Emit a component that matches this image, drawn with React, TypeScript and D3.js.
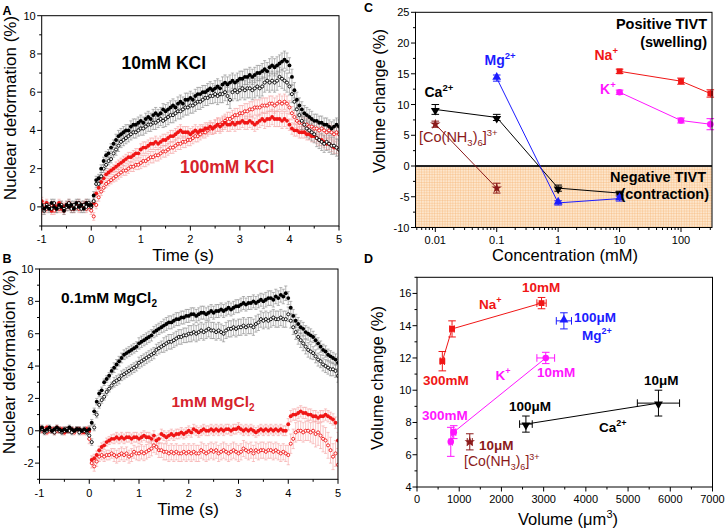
import React from 'react';
import * as d3 from 'd3';

const FONT = '"Liberation Sans", Arial, Helvetica, sans-serif';
const RED = '#f01616';
const RED_TEXT = '#d6232b';
const RED_ERR = '#f5a0a0';
const GREY_ERR = '#858585';
const BLUE = '#1c1cff';
const MAGENTA = '#ff16ff';
const DARK_RED = '#8b1a1a';

// ---------- panels A / B : time series, sampled every 0.05 s from -1 s ----------
const T0 = -1;
const DT = 0.05;

const aBlackFilled = [
  0.1, -0.1, 0.0, -0.1, 0.2, 0.0, -0.1, 0.1, 0.0, -0.2,
  0.1, 0.0, 0.1, -0.1, 0.2, 0.0, 0.1, -0.1, 0.2, 0.1,
  0.1, 0.6, 1.4, 1.5, 2.0, 2.4, 2.7, 2.8, 3.1, 3.3,
  3.5, 3.7, 3.8, 3.9, 4.0, 4.0, 4.2, 4.3, 4.3, 4.4,
  4.5, 4.4, 4.6, 4.7, 4.6, 4.8, 4.9, 4.8, 4.9, 5.1,
  5.0, 5.1, 5.2, 5.3, 5.2, 5.4, 5.5, 5.4, 5.6, 5.6,
  5.7, 5.6, 5.8, 5.9, 5.9, 6.0, 6.0, 6.1, 6.2, 6.1,
  6.2, 6.3, 6.2, 6.4, 6.5, 6.4, 6.5, 6.6, 6.5, 6.6,
  6.7, 6.7, 6.8, 6.8, 6.9, 6.8, 6.9, 7.0, 7.0, 7.1,
  7.2, 7.1, 7.3, 7.4, 7.3, 7.4, 7.5, 7.6, 7.7, 7.6,
  7.4, 6.8, 6.1, 5.6, 5.3, 5.1, 4.9, 4.8, 4.7, 4.6,
  4.5, 4.5, 4.4, 4.4, 4.3, 4.3, 4.2, 4.1, 4.2, 4.3,
  4.2,
];
const aBlackOpen = [
  0.0, -0.2, 0.1, 0.0, -0.1, 0.2, -0.1, 0.0, 0.1, -0.1,
  0.0, 0.2, -0.1, 0.1, 0.0, 0.2, -0.1, 0.1, 0.0, 0.2,
  0.0, 0.3, 1.2, 1.2, 1.6, 2.0, 2.2, 2.4, 2.5, 2.8,
  3.0, 3.2, 3.4, 3.5, 3.6, 3.7, 3.8, 3.9, 3.9, 4.0,
  4.1, 4.1, 4.2, 4.3, 4.3, 4.4, 4.4, 4.5, 4.6, 4.5,
  4.6, 4.7, 4.8, 4.8, 4.9, 5.0, 5.0, 5.1, 5.2, 5.2,
  5.3, 5.3, 5.4, 5.5, 5.5, 5.6, 5.7, 5.7, 5.8, 5.8,
  5.9, 5.8, 5.9, 5.9, 6.0, 5.8, 5.6, 6.0, 6.1, 6.0,
  6.1, 6.2, 6.1, 6.2, 6.2, 6.1, 6.2, 6.3, 6.2, 6.3,
  6.5, 6.6, 6.5, 6.6, 6.5, 6.6, 6.8, 6.7, 6.6, 6.5,
  6.3, 5.9, 5.5, 5.1, 4.8, 4.5, 4.3, 4.1, 4.0, 3.9,
  3.8, 3.6, 3.5, 3.4, 3.3, 3.4, 3.3, 3.2, 3.2, 3.1,
  3.0,
];
const aRedFilled = [
  0.3, -0.1, 0.2, 0.0, -0.2, 0.1, 0.0, 0.2, -0.1, 0.0,
  0.1, 0.2, 0.0, -0.1, 0.1, 0.2, 0.0, 0.1, 0.2, 0.1,
  0.0, 0.2, 0.7, 1.0, 1.3, 1.5, 1.7, 1.8, 1.9, 2.0,
  2.1, 2.2, 2.3, 2.4, 2.5, 2.6, 2.6, 2.7, 2.8, 2.8,
  3.0, 3.1, 3.1, 3.2, 3.3, 3.3, 3.4, 3.3, 3.4, 3.5,
  3.5, 3.6, 3.7, 3.7, 3.8, 3.9, 4.0, 3.9, 3.9, 3.9,
  3.8, 3.9, 4.0, 3.9, 4.0, 4.0, 4.1, 4.1, 4.2, 4.1,
  4.2, 4.3, 4.2, 4.3, 4.4, 4.3, 4.3, 4.4, 4.3, 4.4,
  4.4, 4.5, 4.4, 4.4, 4.5, 4.4, 4.3, 4.4, 4.5, 4.6,
  4.5, 4.6, 4.6, 4.7, 4.6, 4.6, 4.6, 4.5, 4.6, 4.5,
  4.3, 4.1, 4.0, 4.0, 3.9, 3.9, 3.9, 3.8, 3.8, 3.7,
  3.7, 3.6, 3.5, 3.5, 3.4, 3.3, 3.3, 3.2, 3.1, 3.1,
  3.0,
];
const aRedOpen = [
  -0.2, 0.1, -0.1, 0.0, 0.1, -0.2, 0.0, -0.1, 0.1, -0.2,
  0.0, 0.1, -0.1, 0.0, 0.1, -0.1, 0.0, 0.1, -0.1, 0.0,
  -0.2, -0.5, 0.1, 0.5, 0.8, 1.0, 1.2, 1.3, 1.4, 1.5,
  1.6, 1.7, 1.8, 1.9, 1.9, 2.0, 2.1, 2.1, 2.2, 2.2,
  2.3, 2.4, 2.4, 2.5, 2.6, 2.6, 2.7, 2.7, 2.8, 2.9,
  2.9, 3.0, 3.1, 3.1, 3.2, 3.3, 3.3, 3.4, 3.4, 3.5,
  3.5, 3.6, 3.7, 3.7, 3.8, 3.9, 3.9, 4.0, 4.1, 4.1,
  4.2, 4.3, 4.3, 4.4, 4.5, 4.6, 4.6, 4.7, 4.8, 4.8,
  4.9, 4.9, 5.0, 5.0, 5.1, 5.1, 5.2, 5.2, 5.2, 5.3,
  5.3, 5.3, 5.4, 5.4, 5.3, 5.4, 5.5, 5.4, 5.5, 5.4,
  5.2, 4.9, 4.7, 4.5, 4.4, 4.4, 4.3, 4.3, 4.2, 4.2,
  4.1, 4.1, 4.0, 4.1, 4.0, 3.9, 4.0, 3.9, 3.8, 3.9,
  3.8,
];

const bBlackFilled = [
  0.1, 0.2, 0.0, 0.1, 0.2, 0.0, 0.1, 0.2, 0.1, 0.0,
  0.1, 0.0, 0.2, 0.1, 0.0, 0.1, 0.1, 0.0, 0.1, 0.0,
  0.1, 0.5, 1.2, 1.8, 2.3, 2.5, 3.0, 3.2, 3.4, 3.7,
  3.9, 4.1, 4.3, 4.5, 4.7, 4.8, 4.9, 5.0, 5.1, 5.2,
  5.4, 5.5, 5.6, 5.7, 5.8, 5.9, 6.1, 6.2, 6.3, 6.4,
  6.5, 6.6, 6.7, 6.7, 6.8, 6.9, 6.9, 7.0, 7.0, 7.1,
  7.1, 7.2, 7.2, 7.1, 7.2, 7.3, 7.3, 7.2, 7.3, 7.4,
  7.3, 7.4, 7.4, 7.5, 7.4, 7.5, 7.6, 7.5, 7.6, 7.7,
  7.7, 7.8, 7.9, 7.8, 7.9, 7.9, 8.0, 7.9, 8.0, 8.1,
  8.0, 8.1, 8.2, 8.2, 8.1, 8.3, 8.2, 8.4, 8.3, 8.5,
  8.2, 7.6, 7.1, 6.8, 6.6, 6.4, 6.3, 6.1, 6.0, 5.9,
  5.8, 5.6, 5.4, 5.2, 5.0, 4.9, 4.7, 4.6, 4.5, 4.4,
  4.2,
];
const bBlackOpen = [
  0.0, 0.1, -0.1, 0.0, 0.1, 0.0, -0.1, 0.1, 0.0, -0.1,
  0.0, 0.1, 0.0, -0.1, 0.0, 0.1, -0.1, 0.0, 0.0, -0.1,
  -0.3, -0.7, 0.2, 1.0, 1.6, 1.9, 2.1, 2.4, 2.6, 2.8,
  3.0, 3.1, 3.2, 3.4, 3.5, 3.6, 3.7, 3.8, 3.9, 4.0,
  4.2, 4.3, 4.4, 4.5, 4.6, 4.7, 4.8, 5.0, 5.1, 5.2,
  5.3, 5.4, 5.5, 5.5, 5.6, 5.7, 5.8, 5.8, 5.9, 5.9,
  6.0, 6.0, 6.1, 6.0, 6.1, 6.2, 6.1, 6.2, 6.3, 6.2,
  6.2, 6.1, 6.2, 6.1, 6.0, 6.2, 6.3, 6.3, 6.4, 6.3,
  6.4, 6.4, 6.5, 6.4, 6.5, 6.5, 6.4, 6.6, 6.7, 6.9,
  6.8, 6.9, 6.8, 6.9, 7.0, 6.9, 6.9, 7.0, 6.9, 6.9,
  7.2, 6.8, 6.4, 6.1, 5.8, 5.6, 5.4, 5.2, 5.0, 4.9,
  4.8, 4.6, 4.4, 4.3, 4.1, 4.0, 3.9, 3.8, 3.8, 3.7,
  3.4,
];
const bRedFilled = [
  0.2, 0.1, 0.0, 0.2, 0.1, 0.0, 0.1, 0.2, 0.0, 0.1,
  -0.1, 0.1, 0.0, 0.1, 0.0, 0.1, 0.1, 0.0, -0.1, 0.1,
  0.0, -1.8, -1.7, -1.5, -1.2, -1.0, -0.9, -0.7, -0.6, -0.5,
  -0.5, -0.4, -0.5, -0.4, -0.5, -0.4, -0.4, -0.5, -0.4, -0.4,
  -0.5, -0.4, -0.3, -0.4, -0.4, -0.5, -0.3, -0.6, -0.5, -0.2,
  -0.3, -0.4, -0.3, -0.2, -0.3, -0.2, -0.2, -0.1, -0.2, -0.1,
  0.0, -0.1, 0.1, 0.0, -0.1, 0.0, 0.1, 0.0, 0.0, 0.1,
  0.0, 0.1, 0.0, 0.1, 0.0, 0.1, 0.1, 0.0, 0.1, 0.1,
  0.2, 0.1, 0.0, 0.1, 0.0, 0.1, 0.0, -0.1, 0.0, 0.1,
  0.0, 0.1, 0.0, 0.1, 0.0, 0.1, 0.0, 0.1, 0.0, 0.0,
  0.4, 0.9, 1.0, 1.0, 1.1, 1.2, 1.1, 1.1, 1.0, 1.0,
  0.9, 0.9, 0.8, 0.9, 0.9, 1.0, 0.9, 0.8, 0.7, 0.5,
  -0.6,
];
const bRedOpen = [
  0.1, 0.0, 0.1, -0.1, 0.0, 0.1, -0.1, 0.0, 0.1, 0.0,
  -0.1, 0.0, 0.1, 0.0, -0.1, 0.1, 0.0, -0.1, 0.0, 0.1,
  -0.5, -2.0, -2.2, -1.9, -1.6, -1.5, -1.6, -1.5, -1.5, -1.4,
  -1.5, -1.6, -1.5, -1.4, -1.5, -1.4, -1.6, -1.5, -1.3, -1.4,
  -1.4, -1.3, -1.4, -1.3, -1.2, -1.1, -0.9, -1.0, -1.2, -1.2,
  -1.3, -1.3, -1.4, -1.3, -1.4, -1.3, -1.4, -1.4, -1.3, -1.4,
  -1.3, -1.4, -1.3, -1.4, -1.4, -1.2, -1.3, -1.4, -1.3, -1.2,
  -1.3, -1.2, -1.4, -1.3, -1.2, -1.3, -1.4, -1.3, -1.2, -1.3,
  -1.4, -1.3, -1.1, -1.2, -1.3, -1.2, -1.4, -1.2, -1.3, -1.2,
  -1.2, -1.3, -1.2, -1.2, -1.3, -1.2, -1.3, -1.4, -1.3, -1.4,
  -1.5, -0.8, -0.5, -0.1, 0.0, 0.0, -0.1, 0.0, 0.0, -0.1,
  0.0, -0.2, -0.1, -0.3, -0.5, -0.6, -0.9, -1.2, -1.6, -1.4,
  -2.1,
];

// error bar half-widths, one per 0.5 s bin starting at -1 s
const aBlackFilledErr = [0.2, 0.2, 0.2, 0.3, 0.3, 0.35, 0.35, 0.4, 0.4, 0.45, 0.4, 0.35, 0.35];
const aBlackOpenErr = [0.2, 0.2, 0.2, 0.3, 0.35, 0.4, 0.4, 0.45, 0.5, 0.5, 0.45, 0.45, 0.5];
const aRedFilledErr = [0.2, 0.2, 0.2, 0.25, 0.3, 0.3, 0.3, 0.35, 0.35, 0.4, 0.3, 0.3, 0.3];
const aRedOpenErr = [0.2, 0.2, 0.2, 0.25, 0.3, 0.3, 0.3, 0.35, 0.4, 0.4, 0.35, 0.35, 0.35];
const bBlackFilledErr = [0.15, 0.15, 0.2, 0.3, 0.35, 0.4, 0.4, 0.4, 0.4, 0.45, 0.4, 0.35, 0.35];
const bBlackOpenErr = [0.15, 0.15, 0.2, 0.3, 0.35, 0.45, 0.5, 0.5, 0.5, 0.5, 0.45, 0.4, 0.4];
const bRedFilledErr = [0.15, 0.15, 0.25, 0.3, 0.3, 0.3, 0.3, 0.3, 0.3, 0.3, 0.35, 0.35, 0.5];
const bRedOpenErr = [0.15, 0.15, 0.3, 0.4, 0.45, 0.5, 0.5, 0.5, 0.5, 0.5, 0.6, 0.8, 1.0];

const timeTicks = [-1, 0, 1, 2, 3, 4, 5];
const timeMinor = [-0.5, 0.5, 1.5, 2.5, 3.5, 4.5];
const aYTicks = [0, 2, 4, 6, 8, 10];
const aYMinor = [-1, 1, 3, 5, 7, 9];
const bYTicks = [-2, 0, 2, 4, 6, 8, 10];
const bYMinor = [-3, -1, 1, 3, 5, 7, 9];

// ---------- panel C : volume change vs concentration (mM) ----------
const caConc = [0.01, 0.1, 1, 10];
const caVol = [9.2, 7.9, -3.6, -4.4];
const caErr = [0.8, 0.5, 0.5, 0.3];
const mgConc = [0.1, 1, 10];
const mgVol = [14.3, -6.0, -5.3];
const mgErr = [0.5, 0.35, 0.4];
const naConc = [10, 100, 300];
const naVol = [15.4, 13.8, 11.8];
const naErr = [0.35, 0.5, 0.6];
const kConc = [10, 100, 300];
const kVol = [12.0, 7.4, 6.8];
const kErr = [0.35, 0.4, 0.9];
const coConc = [0.01, 0.1];
const coVol = [6.8, -3.6];
const coErr = [0.5, 0.8];

const cYTicks = [-10, -5, 0, 5, 10, 15, 20, 25];
const cYMinor = [-7.5, -2.5, 2.5, 7.5, 12.5, 17.5, 22.5];
const cXTicks = [0.01, 0.1, 1, 10, 100];

// ---------- panel D : volume change vs nuclear volume (um^3) ----------
const naSize = [2950, 830, 600];
const naSizeErr = [110, 50, 50];
const kSize = [3050, 870, 800];
const kSizeErr = [210, 50, 40];
const mgSize = [3480];
const mgSizeErr = [180];
const caSize = [5720, 2580];
const caSizeErr = [500, 150];
const coSize = [1250];
const coSizeErr = [60];

const dXTicks = [0, 1000, 2000, 3000, 4000, 5000, 6000, 7000];
const dXMinor = [500, 1500, 2500, 3500, 4500, 5500, 6500];
const dYTicks = [4, 6, 8, 10, 12, 14, 16];
const dYMinor = [5, 7, 9, 11, 13, 15, 17];

type Box = { l: number; r: number; t: number; b: number };
type Scale = (v: number) => number;

const boxA: Box = { l: 41.7, r: 339, t: 15.7, b: 226 };
const boxB: Box = { l: 39.5, r: 338, t: 269, b: 479.3 };
const boxC: Box = { l: 415.5, r: 712, t: 12.3, b: 227.5 };
const boxD: Box = { l: 417, r: 712.5, t: 277.3, b: 487 };

function Frame({ box, sw = 1 }: { box: Box; sw?: number }) {
  return <rect x={box.l} y={box.t} width={box.r - box.l} height={box.b - box.t} fill="none" stroke="#000" strokeWidth={sw} />;
}

function XAxis({ scale, box, major, minor, fmt, labelY }: { scale: Scale; box: Box; major: number[]; minor: number[]; fmt: (v: number) => string; labelY: number }) {
  return (
    <g stroke="#000" strokeWidth={1}>
      {minor.map((v) => <line key={'m' + v} x1={scale(v)} x2={scale(v)} y1={box.b} y2={box.b + 2.5} />)}
      {major.map((v) => (
        <g key={v}>
          <line x1={scale(v)} x2={scale(v)} y1={box.b} y2={box.b + 4.5} />
          <text x={scale(v)} y={labelY} textAnchor="middle" fontSize={11} stroke="none" fill="#000">{fmt(v)}</text>
        </g>
      ))}
    </g>
  );
}

function YAxis({ scale, box, major, minor, labelX }: { scale: Scale; box: Box; major: number[]; minor: number[]; labelX: number }) {
  return (
    <g stroke="#000" strokeWidth={1}>
      {minor.map((v) => <line key={'m' + v} x1={box.l - 2.5} x2={box.l} y1={scale(v)} y2={scale(v)} />)}
      {major.map((v) => (
        <g key={v}>
          <line x1={box.l - 4.5} x2={box.l} y1={scale(v)} y2={scale(v)} />
          <text x={labelX} y={scale(v) + 4} textAnchor="end" fontSize={11} stroke="none" fill="#000">{v}</text>
        </g>
      ))}
    </g>
  );
}

type TimeSeries = { values: number[]; err: number[]; color: string; errColor: string; open: boolean };

function TimePanel({ box, yDomain, yMajor, yMinor, series, clipId, tickY }: { box: Box; yDomain: [number, number]; yMajor: number[]; yMinor: number[]; series: TimeSeries[]; clipId: string; tickY: number }) {
  const x = d3.scaleLinear().domain([-1, 5]).range([box.l, box.r]);
  const y = d3.scaleLinear().domain(yDomain).range([box.b, box.t]);
  const bin = (i: number) => Math.min(12, Math.floor((i * DT) / 0.5 + 1e-6));
  return (
    <g>
      <defs>
        <clipPath id={clipId}>
          <rect x={box.l} y={box.t} width={box.r - box.l} height={box.b - box.t} />
        </clipPath>
      </defs>
      <g clipPath={`url(#${clipId})`}>
        {series.map((s, si) => (
          <g key={'e' + si} stroke={s.errColor} strokeWidth={0.6}>
            {s.values.map((v, i) => {
              const cx = x(T0 + i * DT);
              const e = s.err[bin(i)];
              const lo = y(v - e);
              const hi = y(v + e);
              return (
                <g key={i}>
                  <line x1={cx} x2={cx} y1={lo} y2={hi} />
                  <line x1={cx - 1.6} x2={cx + 1.6} y1={lo} y2={lo} />
                  <line x1={cx - 1.6} x2={cx + 1.6} y1={hi} y2={hi} />
                </g>
              );
            })}
          </g>
        ))}
        {series.map((s, si) => (
          <g key={'p' + si}>
            {s.values.map((v, i) =>
              s.open ? (
                <circle key={i} cx={x(T0 + i * DT)} cy={y(v)} r={1.55} fill="#fff" stroke={s.color} strokeWidth={0.9} />
              ) : (
                <circle key={i} cx={x(T0 + i * DT)} cy={y(v)} r={1.95} fill={s.color} />
              )
            )}
          </g>
        ))}
      </g>
      <Frame box={box} />
      <XAxis scale={x} box={box} major={timeTicks} minor={timeMinor} fmt={(v) => String(v)} labelY={tickY} />
      <YAxis scale={y} box={box} major={yMajor} minor={yMinor} labelX={box.l - 6} />
    </g>
  );
}

const symPath = (type: d3.SymbolType, size: number) => d3.symbol().type(type).size(size)() as string;

function Marker({ x, y, shape, color, size = 34 }: { x: number; y: number; shape: string; color: string; size?: number }) {
  if (shape === 'down') return <path d={symPath(d3.symbolTriangle, size)} transform={`translate(${x},${y + 1}) rotate(180)`} fill={color} />;
  if (shape === 'up') return <path d={symPath(d3.symbolTriangle, size)} transform={`translate(${x},${y - 1})`} fill={color} />;
  if (shape === 'square') return <path d={symPath(d3.symbolSquare, size)} transform={`translate(${x},${y})`} fill={color} />;
  if (shape === 'star') return <path d={symPath(d3.symbolStar, size)} transform={`translate(${x},${y})`} fill={color} />;
  return <path d={symPath(d3.symbolCircle, size)} transform={`translate(${x},${y})`} fill={color} />;
}

function VErr({ x, y0, y1, color, cap = 3.8 }: { x: number; y0: number; y1: number; color: string; cap?: number }) {
  return (
    <g stroke={color} strokeWidth={1}>
      <line x1={x} x2={x} y1={y0} y2={y1} />
      <line x1={x - cap} x2={x + cap} y1={y0} y2={y0} />
      <line x1={x - cap} x2={x + cap} y1={y1} y2={y1} />
    </g>
  );
}

function HErr({ y, x0, x1, color, cap = 3.8 }: { y: number; x0: number; x1: number; color: string; cap?: number }) {
  return (
    <g stroke={color} strokeWidth={1}>
      <line x1={x0} x2={x1} y1={y} y2={y} />
      <line x1={x0} x2={x0} y1={y - cap} y2={y + cap} />
      <line x1={x1} x2={x1} y1={y - cap} y2={y + cap} />
    </g>
  );
}

type IonSeries = { xs: number[]; ys: number[]; yErr: number[]; xErr?: number[]; color: string; shape: string };

function IonLine({ s, x, y }: { s: IonSeries; x: Scale; y: Scale }) {
  const line = d3.line<number>().x((_, i) => x(s.xs[i])).y((v) => y(v));
  return (
    <g>
      {s.ys.length > 1 && <path d={line(s.ys) as string} fill="none" stroke={s.color} strokeWidth={1} />}
      {s.ys.map((v, i) => (
        <g key={i}>
          <VErr x={x(s.xs[i])} y0={y(v - s.yErr[i])} y1={y(v + s.yErr[i])} color={s.color} />
          {s.xErr && <HErr y={y(v)} x0={x(s.xs[i] - s.xErr[i])} x1={x(s.xs[i] + s.xErr[i])} color={s.color} />}
          <Marker x={x(s.xs[i])} y={y(v)} shape={s.shape} color={s.color} />
        </g>
      ))}
    </g>
  );
}

function PanelC() {
  const x = d3.scaleLog().domain([0.01, 100]).range([435.3, 681]);
  const y = d3.scaleLinear().domain([-10, 25]).range([boxC.b, boxC.t]);
  const lo = x.invert(boxC.l);
  const hi = x.invert(boxC.r);
  const minor: number[] = [];
  [0.001, 0.01, 0.1, 1, 10, 100].forEach((d) => {
    for (let k = 2; k <= 9; k++) if (d * k > lo && d * k < hi) minor.push(d * k);
  });
  const series: IonSeries[] = [
    { xs: coConc, ys: coVol, yErr: coErr, color: DARK_RED, shape: 'star' },
    { xs: caConc, ys: caVol, yErr: caErr, color: '#000', shape: 'down' },
    { xs: mgConc, ys: mgVol, yErr: mgErr, color: BLUE, shape: 'up' },
    { xs: naConc, ys: naVol, yErr: naErr, color: RED, shape: 'square' },
    { xs: kConc, ys: kVol, yErr: kErr, color: MAGENTA, shape: 'circle' },
  ];
  return (
    <g>
      <defs>
        <pattern id="grid" width={2.6} height={2.6} patternUnits="userSpaceOnUse">
          <rect width={2.6} height={2.6} fill="#fde6cc" />
          <path d="M0 0H2.6M0 0V2.6" stroke="#f5b271" strokeWidth={0.7} />
        </pattern>
      </defs>
      <rect x={boxC.l} y={y(0)} width={boxC.r - boxC.l} height={boxC.b - y(0)} fill="url(#grid)" />
      <line x1={boxC.l} x2={boxC.r} y1={y(0)} y2={y(0)} stroke="#222" strokeWidth={2} />
      {series.map((s, i) => <IonLine key={i} s={s} x={x} y={y} />)}
      <Frame box={boxC} />
      <g stroke="#000">
        {minor.map((v, i) => <line key={i} x1={x(v)} x2={x(v)} y1={boxC.b} y2={boxC.b + 2.5} />)}
        {cXTicks.map((v) => (
          <g key={v}>
            <line x1={x(v)} x2={x(v)} y1={boxC.b} y2={boxC.b + 4.5} />
            <text x={x(v)} y={244} textAnchor="middle" fontSize={11} stroke="none" fill="#000">{String(v)}</text>
          </g>
        ))}
      </g>
      <YAxis scale={y} box={boxC} major={cYTicks} minor={cYMinor} labelX={boxC.l - 6} />

      <g fontWeight="bold" fontSize={14.5} textAnchor="end">
        <text x={707} y={29}>Positive TIVT</text>
        <text x={707} y={47}>(swelling)</text>
        <text x={706} y={181.5}>Negative TIVT</text>
        <text x={709} y={199}>(contraction)</text>
      </g>
      <g fontWeight="bold" fontSize={14}>
        <text x={424.5} y={96.5}>Ca<tspan dy={-6} fontSize={9.5}>2+</tspan></text>
        <text x={484.5} y={65} fill={BLUE}>Mg<tspan dy={-6} fontSize={9.5}>2+</tspan></text>
        <text x={594.5} y={59.5} fill={RED}>Na<tspan dy={-6} fontSize={9.5}>+</tspan></text>
        <text x={600} y={93.5} fill={MAGENTA}>K<tspan dy={-6} fontSize={9.5}>+</tspan></text>
        <text x={419} y={141.5} fill={DARK_RED} fontWeight="normal" fontSize={14.5}>
          [Co(NH<tspan dy={4} fontSize={9.5}>3</tspan><tspan dy={-4}>)</tspan><tspan dy={4} fontSize={9.5}>6</tspan><tspan dy={-4}>]</tspan><tspan dy={-6} fontSize={9.5}>3+</tspan>
        </text>
      </g>
      <text x={565} y={261} textAnchor="middle" fontSize={16.5}>Concentration (mM)</text>
      <text transform="translate(385,101) rotate(-90)" textAnchor="middle" fontSize={16.5}>Volume change (%)</text>
    </g>
  );
}

function PanelD() {
  const x = d3.scaleLinear().domain([0, 7000]).range([boxD.l, boxD.r]);
  const y = d3.scaleLinear().domain([4, 17]).range([boxD.b, boxD.t]);
  const series: IonSeries[] = [
    { xs: naSize, ys: naVol, yErr: naErr, xErr: naSizeErr, color: RED, shape: 'square' },
    { xs: kSize, ys: kVol, yErr: kErr, xErr: kSizeErr, color: MAGENTA, shape: 'circle' },
    { xs: caSize, ys: caVol.slice(0, 2), yErr: caErr.slice(0, 2), xErr: caSizeErr, color: '#000', shape: 'down' },
    { xs: mgSize, ys: [mgVol[0]], yErr: [mgErr[0]], xErr: mgSizeErr, color: BLUE, shape: 'up' },
    { xs: coSize, ys: [coVol[0]], yErr: [coErr[0]], xErr: coSizeErr, color: DARK_RED, shape: 'star' },
  ];
  return (
    <g>
      {series.map((s, i) => <IonLine key={i} s={s} x={x} y={y} />)}
      <Frame box={boxD} />
      <XAxis scale={x} box={boxD} major={dXTicks} minor={dXMinor} fmt={(v) => String(v)} labelY={503} />
      <YAxis scale={y} box={boxD} major={dYTicks} minor={dYMinor} labelX={boxD.l - 5.5} />
      <g fontWeight="bold" fontSize={13.5}>
        <text x={522} y={291.5} fill={RED}>10mM</text>
        <text x={479} y={308.5} fill={RED}>Na<tspan dy={-6} fontSize={9}>+</tspan></text>
        <text x={423} y={385} fill={RED}>300mM</text>
        <text x={574} y={321.5} fill={BLUE}>100μM</text>
        <text x={582} y={340} fill={BLUE}>Mg<tspan dy={-6} fontSize={9}>2+</tspan></text>
        <text x={495.5} y={380} fill={MAGENTA}>K<tspan dy={-6} fontSize={9}>+</tspan></text>
        <text x={537} y={376.5} fill={MAGENTA}>10mM</text>
        <text x={422} y={420} fill={MAGENTA}>300mM</text>
        <text x={644} y={385} fill="#000">10μM</text>
        <text x={509} y={410.5} fill="#000">100μM</text>
        <text x={599} y={431.5} fill="#000">Ca<tspan dy={-6} fontSize={9}>2+</tspan></text>
        <text x={479} y={450} fill={DARK_RED}>10μM</text>
        <text x={464} y={466} fill={DARK_RED} fontWeight="normal" fontSize={14}>
          [Co(NH<tspan dy={4} fontSize={9}>3</tspan><tspan dy={-4}>)</tspan><tspan dy={4} fontSize={9}>6</tspan><tspan dy={-4}>]</tspan><tspan dy={-6} fontSize={9}>3+</tspan>
        </text>
      </g>
      <text x={568} y={525} textAnchor="middle" fontSize={16.5}>
        Volume (μm<tspan dy={-7} fontSize={11}>3</tspan><tspan dy={7}>)</tspan>
      </text>
      <text transform="translate(383,378) rotate(-90)" textAnchor="middle" fontSize={16.5}>Volume change (%)</text>
    </g>
  );
}

export default function App() {
  const seriesA: TimeSeries[] = [
    { values: aRedOpen, err: aRedOpenErr, color: RED, errColor: RED_ERR, open: true },
    { values: aRedFilled, err: aRedFilledErr, color: RED, errColor: RED_ERR, open: false },
    { values: aBlackOpen, err: aBlackOpenErr, color: '#000', errColor: GREY_ERR, open: true },
    { values: aBlackFilled, err: aBlackFilledErr, color: '#000', errColor: GREY_ERR, open: false },
  ];
  const seriesB: TimeSeries[] = [
    { values: bRedOpen, err: bRedOpenErr, color: RED, errColor: RED_ERR, open: true },
    { values: bRedFilled, err: bRedFilledErr, color: RED, errColor: RED_ERR, open: false },
    { values: bBlackOpen, err: bBlackOpenErr, color: '#000', errColor: GREY_ERR, open: true },
    { values: bBlackFilled, err: bBlackFilledErr, color: '#000', errColor: GREY_ERR, open: false },
  ];
  return (
    <svg width={727} height={532} style={{ position: 'absolute', left: 0, top: 0, background: '#fff' }} fontFamily={FONT}>
      <TimePanel box={boxA} yDomain={[-1, 10]} yMajor={aYTicks} yMinor={aYMinor} series={seriesA} clipId="clipA" tickY={243} />
      <TimePanel box={boxB} yDomain={[-3, 10]} yMajor={bYTicks} yMinor={bYMinor} series={seriesB} clipId="clipB" tickY={497} />

      <g fontWeight="bold" fontSize={17.5}>
        <text x={121.5} y={69}>10mM KCl</text>
        <text x={180} y={173} fill={RED_TEXT}>100mM KCl</text>
      </g>
      <g fontWeight="bold" fontSize={15.5}>
        <text x={61} y={303}>0.1mM MgCl<tspan dy={4} fontSize={10}>2</tspan></text>
        <text x={171.5} y={407} fill={RED_TEXT}>1mM MgCl<tspan dy={4} fontSize={10}>2</tspan></text>
      </g>

      <text x={183} y={260.5} textAnchor="middle" fontSize={17}>Time (s)</text>
      <text x={188} y={515} textAnchor="middle" fontSize={17}>Time (s)</text>
      <text transform="translate(16,108) rotate(-90)" textAnchor="middle" fontSize={17}>Nuclear deformation (%)</text>
      <text transform="translate(15,362) rotate(-90)" textAnchor="middle" fontSize={17}>Nuclear deformation (%)</text>

      <PanelC />
      <PanelD />

      <g fontWeight="bold" fontSize={12.5}>
        <text x={2.5} y={15}>A</text>
        <text x={2.5} y={263}>B</text>
        <text x={364} y={12}>C</text>
        <text x={364} y={263}>D</text>
      </g>
    </svg>
  );
}
